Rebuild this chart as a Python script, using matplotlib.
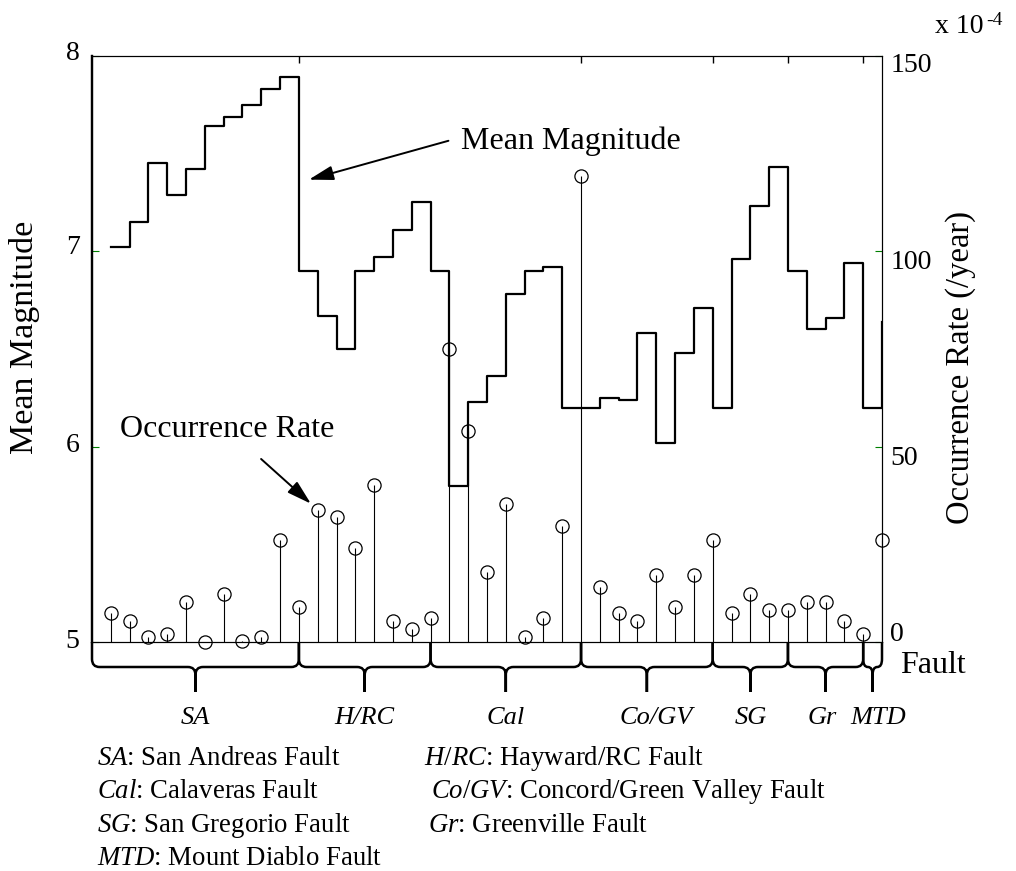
import matplotlib
matplotlib.use("Agg")
import matplotlib.pyplot as plt
from matplotlib.path import Path
from matplotlib.patches import PathPatch
from matplotlib.transforms import blended_transform_factory, ScaledTranslation

plt.rcParams['font.family'] = ['Liberation Serif', 'DejaVu Serif']
plt.rcParams['mathtext.fontset'] = 'custom'
plt.rcParams['mathtext.rm'] = 'Liberation Serif'
plt.rcParams['mathtext.it'] = 'Liberation Serif:italic'

# ---------------- data ----------------
segment = list(range(1, 43))
mean_mag = [7.02, 7.15, 7.45, 7.29, 7.42, 7.64, 7.69, 7.75, 7.83, 7.89,
            6.90, 6.67, 6.50, 6.90, 6.97, 7.11, 7.25, 6.90, 5.80, 6.23,
            6.36, 6.78, 6.90, 6.92, 6.20, 6.20, 6.25, 6.24, 6.58, 6.02,
            6.48, 6.71, 6.20, 6.96, 7.23, 7.43, 6.90, 6.60, 6.66, 6.94,
            6.20, 6.64]
# occurrence rate, x 1e-4 /year
occ_rate = [7.3, 5.3, 1.4, 2.0, 10.2, 0.0, 12.2, 0.3, 1.4, 26.2,
            9.0, 33.9, 31.9, 24.1, 40.1, 5.3, 3.3, 6.2, 74.9, 54.1,
            17.9, 35.2, 1.3, 6.2, 29.8, 119.4, 14.2, 7.3, 5.3, 17.1,
            9.0, 17.1, 26.2, 7.3, 12.2, 8.2, 8.2, 10.2, 10.2, 5.3,
            2.0, 26.2]

fault_names = ['SA', 'H/RC', 'Cal', 'Co/GV', 'SG', 'Gr', 'MTD']
fault_edges = [0, 11, 18, 26, 33, 37, 41, 42]
label_x = [5.5, 14.5, 22, 30, 35, 38.8, 41.8]
top_ticks = [11, 26, 33, 37, 41]

legend_lines = [
    (r'$\mathit{SA}$: San Andreas Fault', 97, 765),
    (r'$\mathit{H/RC}$: Hayward/RC Fault', 424, 765),
    (r'$\mathit{Cal}$: Calaveras Fault', 97, 798),
    (r'$\mathit{Co/GV}$: Concord/Green Valley Fault', 431, 798),
    (r'$\mathit{SG}$: San Gregorio Fault', 97, 832),
    (r'$\mathit{Gr}$: Greenville Fault', 428, 832),
    (r'$\mathit{MTD}$: Mount Diablo Fault', 97, 865),
]

W, H = 1016, 871
fig = plt.figure(figsize=(W / 100, H / 100), dpi=100)
ax = fig.add_axes([92 / W, 1 - 642 / H, 790 / W, 586 / H])
ax2 = ax.twinx()

# ---------------- mean magnitude (step) ----------------
ax.step(segment, mean_mag, where='post', color='k', lw=1.6)
ax.set_xlim(0, 42)
ax.set_ylim(5, 8)
ax.set_yticks([5, 6, 7, 8])

# ---------------- occurrence rate (stems) ----------------
ax2.vlines(segment, 0, occ_rate, colors='k', lw=0.8)
ax2.plot(segment, occ_rate, 'o', ms=9.5, mfc='none', mec='k', mew=0.9, clip_on=False)
ax2.set_ylim(0, 150)
ax2.set_yticks([0, 50, 100, 150])

ax.set_xticks(top_ticks)
ax.tick_params(axis='x', bottom=False, top=True, labelbottom=False, labeltop=False,
               direction='in', length=5, width=1, color='k')
ax.tick_params(axis='y', direction='in', length=5, color='green', labelsize=20, pad=9)
ax2.tick_params(axis='y', direction='in', length=5, color='green', labelsize=20, pad=6)
for a in (ax, ax2):
    for s in a.spines.values():
        s.set_linewidth(0.8)
    a.spines['left'].set_linewidth(1.6)

# tick labels sit a little off their ticks in the original
for t, d in zip(ax.yaxis.get_major_ticks(), [4, 4, 7, 5]):
    t.label1.set_transform(t.label1.get_transform() + ScaledTranslation(0, d / 100, fig.dpi_scale_trans))
for t, d in zip(ax2.yaxis.get_major_ticks(), [11, -9, -8, -6]):
    t.label2.set_transform(t.label2.get_transform() + ScaledTranslation(0, d / 100, fig.dpi_scale_trans))

ax.text(-0.085, 0.52, 'Mean Magnitude', transform=ax.transAxes, rotation=90,
        ha='center', va='center', fontsize=24.5)
ax.text(1.099, 0.468, 'Occurrence Rate (/year)', transform=ax.transAxes, rotation=90,
        ha='center', va='center', fontsize=23.5)
fig.text(935 / W, 1 - 33 / H, 'x 10', fontsize=20, va='baseline', ha='left')
fig.text(986 / W, 1 - 25 / H, '-4', fontsize=14, va='baseline', ha='left')
ax.text(1.023, -0.04, 'Fault', transform=ax.transAxes, ha='left', va='center', fontsize=23)

# ---------------- annotations ----------------
arrow = dict(arrowstyle='-|>,head_length=0.75,head_width=0.22', color='k', lw=1.4,
             mutation_scale=20, shrinkA=0, shrinkB=0)
ax.annotate('', xy=(11.53, 7.367), xytext=(18.95, 7.566), arrowprops=arrow)
ax.text(19.6, 7.566, 'Mean Magnitude', fontsize=23, ha='left', va='center')
ax.annotate('', xy=(11.64, 5.708), xytext=(8.99, 5.937), arrowprops=arrow)
ax.text(1.48, 6.087, 'Occurrence Rate', fontsize=23, ha='left', va='center')

# ---------------- fault braces ----------------
trans = blended_transform_factory(ax.transData, ax.transAxes)
y0, y1, y2, dy = 0.0, -25 / 586, -50 / 586, 8 / 586


def brace(a, b):
    m = (a + b) / 2
    r = min(0.4, (b - a) / 4)
    verts, codes = [], []
    for e, sgn in ((a, 1), (b, -1)):
        verts += [(e, y0), (e, y1 + dy), (e, y1), (e + sgn * r, y1),
                  (m - sgn * r, y1), (m, y1), (m, y1 - dy), (m, y2)]
        codes += [Path.MOVETO, Path.LINETO, Path.CURVE3, Path.CURVE3,
                  Path.LINETO, Path.CURVE3, Path.CURVE3, Path.LINETO]
    ax.add_patch(PathPatch(Path(verts, codes), fill=False, lw=1.8, color='k',
                           transform=trans, clip_on=False))


for i, name in enumerate(fault_names):
    brace(fault_edges[i], fault_edges[i + 1])
    ax.text(label_x[i], -0.13, name, transform=trans, ha='center', va='center',
            style='italic', fontsize=19)

for txt, px, py in legend_lines:
    fig.text(px / W, 1 - py / H, txt, fontsize=19.3, ha='left', va='baseline')

fig.savefig('out.png', dpi=100)
